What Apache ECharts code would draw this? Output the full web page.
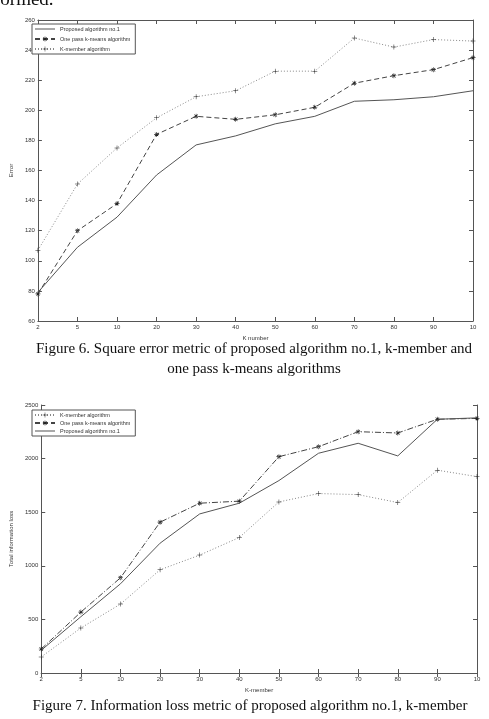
<!DOCTYPE html>
<html>
<head>
<meta charset="utf-8">
<script src="https://cdn.jsdelivr.net/npm/echarts@6/dist/echarts.min.js"></script>
<style>
  html, body { margin: 0; padding: 0; background: #fff; }
  #main { width: 489px; height: 719px; }
</style>
</head>
<body>
<div id="main"></div>
<script>
// tick labels on the x axis (last one is cut to "10" in the scan)
const kLabels = ['2', '5', '10', '20', '30', '40', '50', '60', '70', '80', '90', '10'];

// Figure 6 - square error
const fig6Proposed = [79, 109, 129, 157, 177, 183, 191, 196, 206, 207, 209, 213];
const fig6OnePass = [78, 120, 138, 184, 196, 194, 197, 202, 218, 223, 227, 235];
const fig6KMember = [107, 151, 175, 195, 209, 213, 226, 226, 248, 242, 247, 246];

// Figure 7 - total information loss
const fig7KMember = [150, 420, 643, 963, 1100, 1264, 1596, 1674, 1664, 1590, 1892, 1832];
const fig7OnePass = [224, 568, 888, 1407, 1584, 1603, 2018, 2111, 2251, 2239, 2367, 2375];
const fig7Proposed = [212, 525, 832, 1211, 1484, 1584, 1795, 2050, 2143, 2025, 2367, 2380];

const NAME_P = 'Proposed algorithm no.1';
const NAME_O = 'One pass k-means algorithm';
const NAME_K = 'K-member algorithm';

// marker shapes (matlab '+' and '*')
const plusPath = 'path://M-0.1,-1H0.1V1H-0.1Z M-1,-0.1H1V0.1H-1Z';
const starPath = 'path://M-0.12,-1H0.12V1H-0.12Z M-1,-0.12H1V0.12H-1Z ' +
  'M-0.785,-0.615L0.615,0.785L0.785,0.615L-0.615,-0.785Z ' +
  'M0.785,-0.615L-0.615,0.785L-0.785,0.615L0.615,-0.785Z';
// plain line for the legend (tiny corner dots keep the box 20x6)
const lineIcon = 'path://M0,0H0.01V0.01H0Z M0,2.6H20V3.4H0Z M19.99,5.99H20V6H19.99Z';

const axisColor = '#555';
const tickFont = { fontSize: 6, color: '#333', fontFamily: 'Liberation Sans' };

function xAxes(gridIndex, name) {
  return [
    {
      type: 'category', gridIndex: gridIndex, data: kLabels, boundaryGap: false,
      name: name, nameLocation: 'middle', nameGap: 14,
      nameTextStyle: tickFont,
      axisLine: { lineStyle: { color: axisColor, width: 1 } },
      axisTick: { inside: true, length: 4, alignWithLabel: true, lineStyle: { color: axisColor } },
      axisLabel: Object.assign({ margin: 3, interval: 0 }, tickFont),
      splitLine: { show: false }
    },
    {
      type: 'category', gridIndex: gridIndex, data: kLabels, boundaryGap: false, position: 'top',
      axisLine: { lineStyle: { color: axisColor, width: 1 } },
      axisTick: { inside: true, length: 4, lineStyle: { color: axisColor } },
      axisLabel: { show: false },
      splitLine: { show: false }
    }
  ];
}

function yAxes(gridIndex, min, max, interval, name, nameGap) {
  return [
    {
      type: 'value', gridIndex: gridIndex, min: min, max: max, interval: interval,
      name: name, nameLocation: 'middle', nameGap: nameGap,
      nameTextStyle: tickFont,
      axisLine: { show: true, lineStyle: { color: axisColor, width: 1 } },
      axisTick: { show: true, inside: true, length: 4, lineStyle: { color: axisColor } },
      axisLabel: Object.assign({ margin: 3, formatter: (v) => String(v) }, tickFont),
      splitLine: { show: false }
    },
    {
      type: 'value', gridIndex: gridIndex, min: min, max: max, interval: interval, position: 'right',
      axisLine: { show: true, lineStyle: { color: axisColor, width: 1 } },
      axisTick: { show: true, inside: true, length: 4, lineStyle: { color: axisColor } },
      axisLabel: { show: false },
      splitLine: { show: false }
    }
  ];
}

function lineSeries(name, data, xi, yi, style, symbol) {
  return {
    name: name, type: 'line', data: data,
    xAxisIndex: xi, yAxisIndex: yi,
    symbol: symbol || 'none', symbolSize: 5,
    showSymbol: !!symbol,
    itemStyle: { color: symbol ? '#222' : style.color },
    lineStyle: Object.assign({ width: 1 }, style),
    emphasis: { disabled: true }
  };
}

const solid = { color: '#555', type: 'solid' };
const dashed = { color: '#444', type: [5, 3] };
const dashDot = { color: '#444', type: [6, 2, 1, 2] };
const dotted = { color: '#888', type: [1, 2] };

const legendBase = {
  orient: 'vertical',
  backgroundColor: '#fff',
  borderColor: axisColor, borderWidth: 1,
  padding: [2, 5, 2, 2],
  itemWidth: 20, itemHeight: 6,
  textStyle: { fontSize: 5.5, color: '#333', fontFamily: 'Liberation Sans' },
  selectedMode: false
};

const serif = 'Liberation Serif';
const captionStyle = { fontFamily: serif, fontSize: 15, fill: '#111', textAlign: 'center' };

let chart = echarts.init(document.getElementById('main'));
let option = {
  animation: false,
  backgroundColor: '#fff',
  grid: [
    { left: 29, top: 20, width: 444, height: 301 },
    { left: 29, top: 405, width: 448, height: 268 }
  ],
  xAxis: [].concat(xAxes(0, 'K number'), xAxes(1, 'K-member')),
  yAxis: [].concat(yAxes(0, 60, 260, 20, 'Error', 16), yAxes(1, 0, 2500, 500, 'Total information loss', 20)),
  legend: [
    Object.assign({}, legendBase, {
      left: 32, top: 24, itemGap: 4,
      data: [{ name: NAME_P, icon: lineIcon }, NAME_O, NAME_K]
    }),
    Object.assign({}, legendBase, {
      left: 32, top: 410, itemGap: 2,
      data: [NAME_K, NAME_O, { name: NAME_P, icon: lineIcon }]
    })
  ],
  series: [
    lineSeries(NAME_P, fig6Proposed, 0, 0, solid),
    lineSeries(NAME_O, fig6OnePass, 0, 0, dashed, starPath),
    lineSeries(NAME_K, fig6KMember, 0, 0, dotted, plusPath),
    lineSeries(NAME_K, fig7KMember, 2, 2, dotted, plusPath),
    lineSeries(NAME_O, fig7OnePass, 2, 2, dashDot, starPath),
    lineSeries(NAME_P, fig7Proposed, 2, 2, solid)
  ],
  graphic: [
    // end of the previous paragraph, cut by the page top
    { type: 'text', left: -6, top: -9, style: { text: 'formed.', fontFamily: serif, fontSize: 19, fill: '#111' } },
    { type: 'text', x: 254, y: 342, style: Object.assign({ text: 'Figure 6. Square error metric of proposed algorithm no.1, k-member and' }, captionStyle) },
    { type: 'text', x: 254, y: 362, style: Object.assign({ text: 'one pass k-means algorithms' }, captionStyle) },
    { type: 'text', x: 250, y: 699, style: Object.assign({ text: 'Figure 7. Information loss metric of proposed algorithm no.1, k-member' }, captionStyle) }
  ]
};
chart.setOption(option);
</script>
</body>
</html>
